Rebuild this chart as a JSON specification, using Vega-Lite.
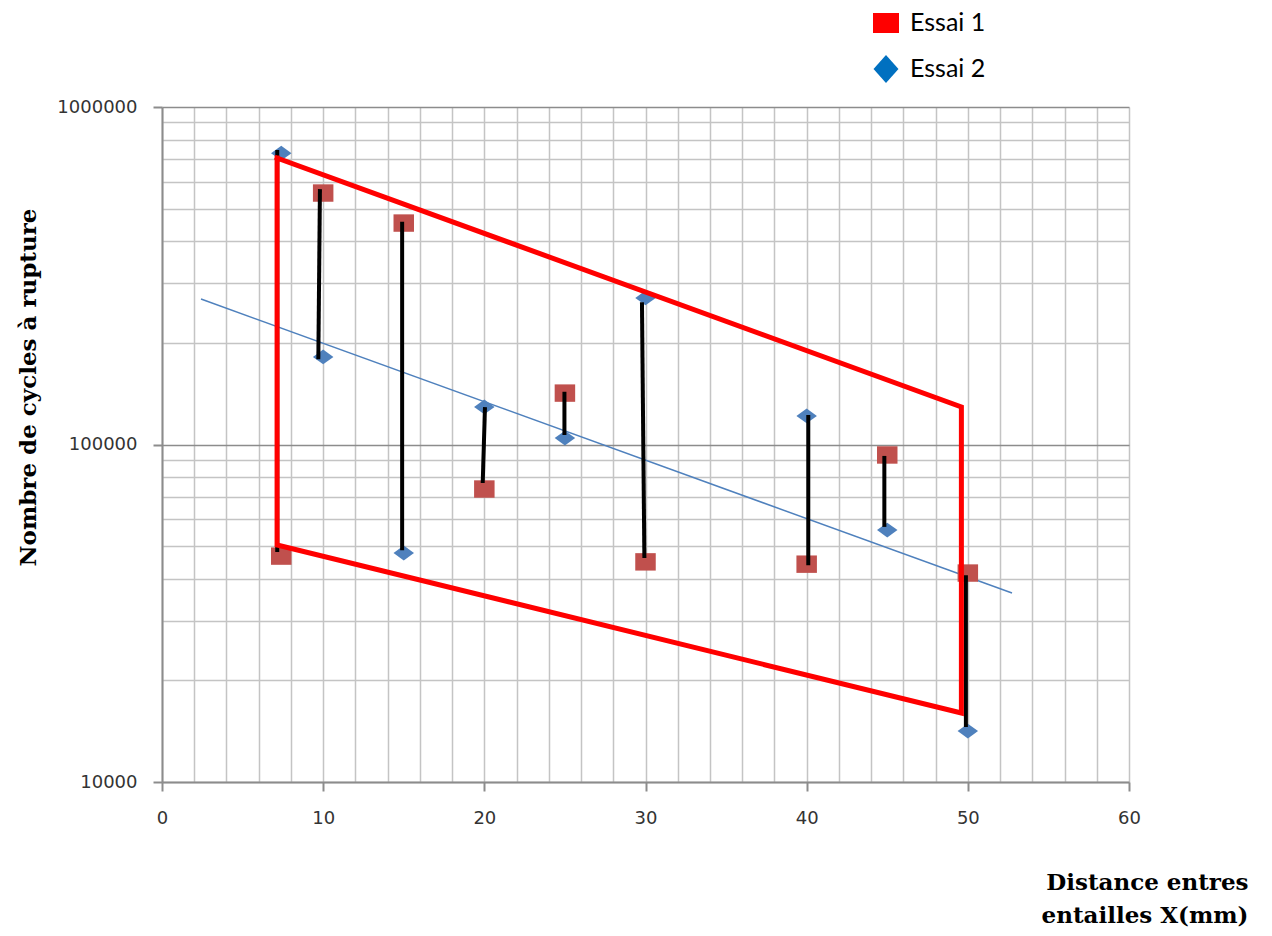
{
  "$schema": "https://vega.github.io/schema/vega-lite/v6.json",
  "width": 967,
  "height": 675,
  "autosize": {"type": "none"},
  "padding": {"left": 162, "top": 107, "right": 143, "bottom": 154},
  "background": "white",
  "config": {"view": {"stroke": null}},
  "datasets": {
    "points": [
      {"x": 7.4, "n": 46700, "essai": "Essai 1"},
      {"x": 10, "n": 556000, "essai": "Essai 1"},
      {"x": 15, "n": 453000, "essai": "Essai 1"},
      {"x": 20, "n": 73800, "essai": "Essai 1"},
      {"x": 25, "n": 142000, "essai": "Essai 1"},
      {"x": 30, "n": 44900, "essai": "Essai 1"},
      {"x": 40, "n": 44200, "essai": "Essai 1"},
      {"x": 45, "n": 93100, "essai": "Essai 1"},
      {"x": 50, "n": 41600, "essai": "Essai 1"},
      {"x": 7.4, "n": 730000, "essai": "Essai 2"},
      {"x": 10, "n": 181700, "essai": "Essai 2"},
      {"x": 15, "n": 47700, "essai": "Essai 2"},
      {"x": 20, "n": 129200, "essai": "Essai 2"},
      {"x": 25, "n": 104500, "essai": "Essai 2"},
      {"x": 30, "n": 271800, "essai": "Essai 2"},
      {"x": 40, "n": 121500, "essai": "Essai 2"},
      {"x": 45, "n": 55800, "essai": "Essai 2"},
      {"x": 50, "n": 14160, "essai": "Essai 2"}
    ],
    "links": [
      {"g": 1, "x": 7.15, "n": 746000},
      {"g": 1, "x": 7.15, "n": 48000},
      {"g": 2, "x": 9.8, "n": 571000},
      {"g": 2, "x": 9.7, "n": 179000},
      {"g": 3, "x": 14.9, "n": 457000},
      {"g": 3, "x": 14.9, "n": 48600},
      {"g": 4, "x": 20.04, "n": 129000},
      {"g": 4, "x": 19.9, "n": 76900},
      {"g": 5, "x": 24.97, "n": 143300},
      {"g": 5, "x": 24.97, "n": 106700},
      {"g": 6, "x": 29.78, "n": 264000},
      {"g": 6, "x": 29.93, "n": 46100},
      {"g": 7, "x": 40.1, "n": 122300},
      {"g": 7, "x": 40.1, "n": 43900},
      {"g": 8, "x": 44.82, "n": 92500},
      {"g": 8, "x": 44.82, "n": 57000},
      {"g": 9, "x": 49.88, "n": 41000},
      {"g": 9, "x": 49.88, "n": 14560}
    ],
    "trend": [
      {"x": 2.42, "n": 269800},
      {"x": 52.74, "n": 36300}
    ],
    "frame": [
      {"i": 1, "x": 7.14, "n": 706200},
      {"i": 2, "x": 49.6, "n": 129200},
      {"i": 3, "x": 49.6, "n": 16010},
      {"i": 4, "x": 7.14, "n": 50380},
      {"i": 5, "x": 7.14, "n": 706200}
    ]
  },
  "encoding": {
    "x": {
      "field": "x",
      "type": "quantitative",
      "scale": {"domain": [0, 60], "nice": false, "zero": false},
      "axis": {
        "values": [0, 2, 4, 6, 8, 10, 12, 14, 16, 18, 20, 22, 24, 26, 28, 30, 32, 34, 36, 38, 40, 42, 44, 46, 48, 50, 52, 54, 56, 58, 60],
        "labelExpr": "datum.value % 10 == 0 ? datum.value + '' : ''",
        "labelFlush": false,
        "labelOverlap": false,
        "labelFont": "DejaVu Sans",
        "labelFontSize": 18,
        "labelColor": "#333333",
        "labelPadding": 18,
        "grid": true,
        "gridColor": "#c4c4c4",
        "gridWidth": 1.5,
        "tickSize": 9,
        "tickWidth": 2,
        "tickColor": "#8c8c8c",
        "tickOpacity": {"condition": {"test": "datum.value % 10 == 0", "value": 1}, "value": 0},
        "domainColor": "#8c8c8c",
        "domainWidth": 2,
        "title": ["Distance entres", "entailles X(mm)"],
        "titleFont": "DejaVu Serif",
        "titleFontWeight": "bold",
        "titleFontSize": 23,
        "titleColor": "black",
        "titleAlign": "right",
        "titleBaseline": "top",
        "titleX": 1086,
        "titleY": 89,
        "titleLineHeight": 33
      }
    },
    "y": {
      "field": "n",
      "type": "quantitative",
      "scale": {"type": "log", "domain": [10000, 1000000], "nice": false},
      "axis": {
        "values": [10000, 20000, 30000, 40000, 50000, 60000, 70000, 80000, 90000, 100000, 200000, 300000, 400000, 500000, 600000, 700000, 800000, 900000, 1000000],
        "labelExpr": "(datum.value == 10000 || datum.value == 100000 || datum.value == 1000000) ? format(datum.value, 'd') : ''",
        "labelOverlap": false,
        "labelFont": "DejaVu Sans",
        "labelFontSize": 18,
        "labelColor": "#333333",
        "labelPadding": 16,
        "grid": true,
        "gridColor": {"condition": {"test": "datum.value == 100000 || datum.value == 1000000", "value": "#8c8c8c"}, "value": "#c4c4c4"},
        "gridWidth": 1.5,
        "tickSize": 9,
        "tickWidth": 2,
        "tickColor": "#8c8c8c",
        "tickOpacity": {"condition": {"test": "datum.value == 10000 || datum.value == 100000 || datum.value == 1000000", "value": 1}, "value": 0},
        "domainColor": "#8c8c8c",
        "domainWidth": 2,
        "title": "Nombre de cycles à rupture",
        "titleFont": "DejaVu Serif",
        "titleFontWeight": "bold",
        "titleFontSize": 23,
        "titleColor": "black",
        "titleAngle": 270,
        "titleAlign": "center",
        "titleBaseline": "middle",
        "titleX": -134,
        "titleY": 280
      }
    }
  },
  "layer": [
    {
      "data": {"name": "trend"},
      "mark": {"type": "line", "color": "#4F81BD", "strokeWidth": 1.5},
      "encoding": {}
    },
    {
      "data": {"name": "points"},
      "mark": {"type": "point", "filled": true, "opacity": 1, "strokeWidth": 0},
      "encoding": {
        "color": {
          "field": "essai",
          "type": "nominal",
          "scale": {"domain": ["Essai 1", "Essai 2"], "range": ["#C0504D", "#4F81BD"]},
          "legend": null
        },
        "shape": {
          "field": "essai",
          "type": "nominal",
          "scale": {"domain": ["Essai 1", "Essai 2"], "range": ["M-1,-0.85L1,-0.85L1,0.85L-1,0.85Z", "M-1,0L0,-0.72L1,0L0,0.72Z"]},
          "legend": null
        },
        "size": {"value": 420}
      }
    },
    {
      "data": {"name": "points"},
      "transform": [{"filter": "false"}],
      "mark": {"type": "point", "filled": true, "opacity": 1},
      "encoding": {
        "fill": {
          "field": "essai",
          "type": "nominal",
          "scale": {"domain": ["Essai 1", "Essai 2"], "range": ["#FF0000", "#0070C0"]},
          "legend": {
            "orient": "none",
            "legendX": 710,
            "legendY": -98,
            "title": null,
            "padding": 0,
            "labelFont": "Lato",
            "labelFontSize": 25,
            "labelColor": "black",
            "labelOffset": 10,
            "symbolSize": 676,
            "symbolStrokeColor": "black",
            "symbolStrokeWidth": 1.5,
            "symbolOpacity": 1,
            "rowPadding": 14
          }
        },
        "stroke": {"value": "black"},
        "strokeWidth": {"value": 1.5},
        "shape": {
          "field": "essai",
          "type": "nominal",
          "scale": {"domain": ["Essai 1", "Essai 2"], "range": ["M-1,-0.77L1,-0.77L1,0.77L-1,0.77Z", "M-0.96,0L0,-1.08L0.96,0L0,1.08Z"]},
          "legend": {
            "orient": "none",
            "legendX": 710,
            "legendY": -98,
            "title": null,
            "padding": 0,
            "labelFont": "Lato",
            "labelFontSize": 25,
            "labelColor": "black",
            "labelOffset": 10,
            "symbolSize": 676,
            "symbolStrokeColor": "black",
            "symbolStrokeWidth": 1.5,
            "symbolOpacity": 1,
            "rowPadding": 14
          }
        }
      }
    },
    {
      "data": {"name": "links"},
      "mark": {"type": "line", "color": "black", "strokeWidth": 4},
      "encoding": {
        "detail": {"field": "g", "type": "nominal"}
      }
    },
    {
      "data": {"name": "frame"},
      "mark": {"type": "line", "color": "#FF0000", "strokeWidth": 5, "strokeJoin": "miter", "strokeCap": "square"},
      "encoding": {
        "order": {"field": "i", "type": "quantitative"}
      }
    }
  ],
  "resolve": {"scale": {"color": "independent", "shape": "independent", "fill": "independent"}}
}
